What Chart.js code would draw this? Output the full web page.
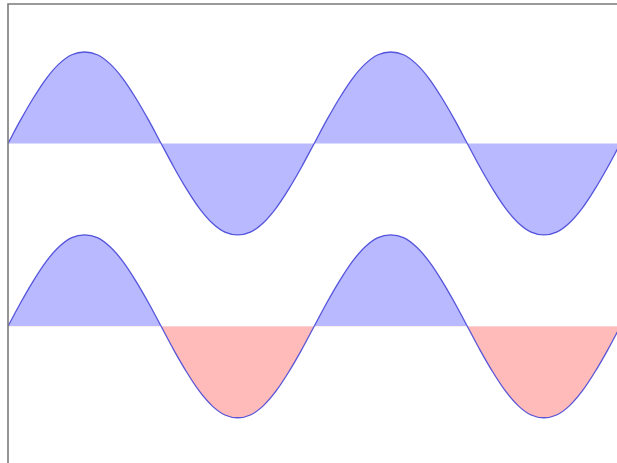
<!DOCTYPE html>
<html>
<head>
<meta charset="utf-8">
<script src="https://cdn.jsdelivr.net/npm/chart.js@4"></script>
<style>
    html, body { margin: 0; padding: 0; background: #fff; }
    #wrap { width: 617px; height: 463px; position: relative; }
</style>
</head>
<body>
<div id="wrap"><canvas id="waveChart"></canvas></div>
<script>

// angle in degrees along the x axis
const angles = [0, 15, 30, 45, 60, 75, 90, 105, 120, 135, 150, 165, 180,
    195, 210, 225, 240, 255, 270, 285, 300, 315, 330, 345, 360,
    375, 390, 405, 420, 435, 450, 465, 480, 495, 510, 525, 540,
    555, 570, 585, 600, 615, 630, 645, 660, 675, 690, 705, 720];

// upper wave, sits on the line y = 2
const upperWave = [2, 2.26, 2.5, 2.71, 2.87, 2.97, 3, 2.97, 2.87, 2.71, 2.5, 2.26, 2,
    1.74, 1.5, 1.29, 1.13, 1.03, 1, 1.03, 1.13, 1.29, 1.5, 1.74, 2,
    2.26, 2.5, 2.71, 2.87, 2.97, 3, 2.97, 2.87, 2.71, 2.5, 2.26, 2,
    1.74, 1.5, 1.29, 1.13, 1.03, 1, 1.03, 1.13, 1.29, 1.5, 1.74, 2];

// lower wave, sits on the line y = 0
const lowerWave = [0, 0.26, 0.5, 0.71, 0.87, 0.97, 1, 0.97, 0.87, 0.71, 0.5, 0.26, 0,
    -0.26, -0.5, -0.71, -0.87, -0.97, -1, -0.97, -0.87, -0.71, -0.5, -0.26, 0,
    0.26, 0.5, 0.71, 0.87, 0.97, 1, 0.97, 0.87, 0.71, 0.5, 0.26, 0,
    -0.26, -0.5, -0.71, -0.87, -0.97, -1, -0.97, -0.87, -0.71, -0.5, -0.26, 0];

const upperBase = 2;
const lowerBase = 0;

function toPoints(xs, ys) {
    return xs.map((x, i) => ({ x: x, y: ys[i] }));
}

// left and top spines only, the rest of the axes box runs off the page
const framePlugin = {
    id: 'frame',
    afterDraw(chart) {
        const { ctx, chartArea } = chart;
        ctx.save();
        ctx.strokeStyle = '#7a7a7a';
        ctx.lineWidth = 1.6;
        ctx.beginPath();
        ctx.moveTo(chartArea.left, chartArea.bottom + 2);
        ctx.lineTo(chartArea.left, chartArea.top);
        ctx.lineTo(chartArea.right + 2, chartArea.top);
        ctx.stroke();
        ctx.restore();
    }
};

const waveCtx = document.getElementById('waveChart').getContext('2d');
new Chart(waveCtx, {
    type: 'line',
    data: {
        datasets: [
            {
                data: toPoints(angles, upperWave),
                borderColor: 'rgba(70, 70, 215, 0.9)',
                borderWidth: 1.3,
                backgroundColor: '#b9b9ff',
                fill: { value: upperBase },
                pointRadius: 0,
                cubicInterpolationMode: 'monotone'
            },
            {
                data: toPoints(angles, lowerWave),
                borderColor: 'rgba(70, 70, 215, 0.9)',
                borderWidth: 1.3,
                fill: {
                    target: { value: lowerBase },
                    above: '#b9b9ff',
                    below: '#ffbaba'
                },
                pointRadius: 0,
                cubicInterpolationMode: 'monotone'
            }
        ]
    },
    options: {
        responsive: true,
        maintainAspectRatio: false,
        animation: false,
        layout: {
            padding: { left: 8, top: 4, right: 0, bottom: 0 }
        },
        plugins: {
            legend: { display: false },
            tooltip: { enabled: false }
        },
        scales: {
            x: {
                type: 'linear',
                display: false,
                min: 0,
                max: 716
            },
            y: {
                display: false,
                min: -1.495,
                max: 3.525
            }
        }
    },
    plugins: [framePlugin]
});
</script>
</body>
</html>
